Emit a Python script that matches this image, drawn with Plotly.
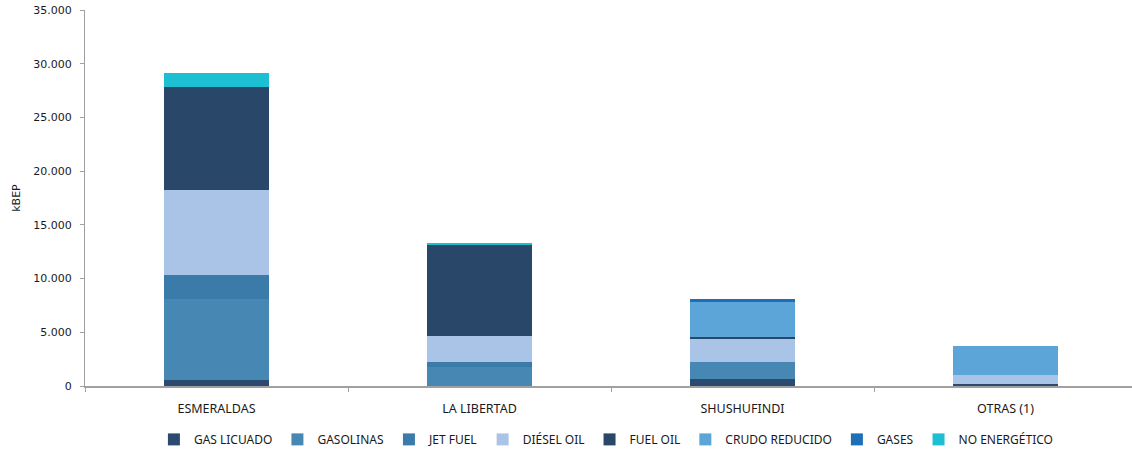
import plotly.graph_objects as go

categories = ["ESMERALDAS", "LA LIBERTAD", "SHUSHUFINDI", "OTRAS (1)"]

gas_licuado = [600, 0, 680, 160]
gasolinas = [7540, 1735, 1580, 0]
jet_fuel = [2190, 520, 0, 0]
diesel_oil = [7920, 2385, 2075, 860]
fuel_oil = [9560, 8565, 190, 0]
crudo_reducido = [0, 0, 3340, 2660]
gases = [0, 0, 210, 0]
no_energetico = [1360, 130, 0, 0]

series = [
    ("GAS LICUADO", gas_licuado, "#2B4A6F"),
    ("GASOLINAS", gasolinas, "#4688B3"),
    ("JET FUEL", jet_fuel, "#3A7BAA"),
    ("DIÉSEL OIL", diesel_oil, "#AAC4E7"),
    ("FUEL OIL", fuel_oil, "#284769"),
    ("CRUDO REDUCIDO", crudo_reducido, "#5CA5D9"),
    ("GASES", gases, "#1E6FB8"),
    ("NO ENERGÉTICO", no_energetico, "#1DBFD3"),
]

fig = go.Figure()
for name, vals, color in series:
    fig.add_trace(go.Bar(
        x=categories, y=vals, name=name,
        marker=dict(color=color, line=dict(width=0)),
    ))

fig.update_layout(
    barmode="stack",
    bargap=0.6,
    width=1132, height=454,
    margin=dict(l=85, r=0, t=10, b=64),
    paper_bgcolor="white", plot_bgcolor="white",
    font=dict(family="DejaVu Sans", size=11, color="#1a1a1a"),
    showlegend=True,
    legend=dict(
        orientation="h", x=0.498, xanchor="center", y=-0.142, yanchor="middle",
        font=dict(family="Noto Sans", size=12, color="#1a1a1a"),
        traceorder="normal", itemwidth=30,
    ),
    xaxis=dict(
        range=[-0.5, 3.481],
        showline=True, linecolor="#a0a0a0", linewidth=1.5,
        ticks="outside", tickson="boundaries", ticklen=4, tickcolor="#a0a0a0",
        showgrid=False, ticklabelstandoff=10, automargin=False,
        tickfont=dict(family="Noto Sans", size=12.5, color="#1a1a1a"),
    ),
    yaxis=dict(
        range=[0, 35000], dtick=5000,
        tickformat=",d",
        showline=True, linecolor="#a0a0a0", linewidth=1,
        ticks="outside", ticklen=4, tickcolor="#a0a0a0",
        showgrid=False, zeroline=False, ticklabelstandoff=6,
        ticklabeloverflow="allow", automargin=False,
        title=dict(text="kBEP", standoff=10, font=dict(size=11)),
    ),
    separators=",.",
)

fig.write_html("out.html", config={"displayModeBar": False},
               post_script="document.body.style.margin='0';")
